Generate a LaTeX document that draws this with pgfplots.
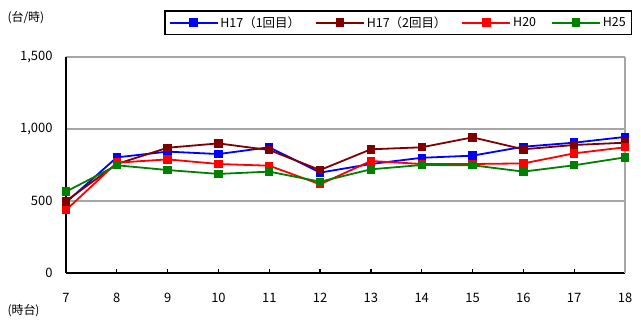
\documentclass[border=0pt]{standalone}
\usepackage{fontspec}
\setmainfont{Noto Sans CJK JP}
\usepackage{pgfplots}
\pgfplotsset{compat=1.18}
\definecolor{cBlue}{RGB}{0,0,255}
\definecolor{cBrown}{RGB}{128,0,0}
\definecolor{cRed}{RGB}{255,0,0}
\definecolor{cGreen}{RGB}{0,128,0}
\begin{document}
\begin{tikzpicture}
\useasboundingbox (0,0) rectangle (641bp,320bp);
\begin{axis}[
  at={(66bp,47bp)}, anchor=south west,
  scale only axis, width=559bp, height=216bp,
  xmin=7, xmax=18, ymin=0, ymax=1500,
  xtick={7,...,18}, ytick={0,500,1000,1500},
  clip=false,
  axis x line*=bottom, axis y line*=left,
  axis line style={black, line width=1.6bp, -},
  ymajorgrids, major grid style={gray!70, line width=1.4bp},
  xtick style={black, line width=1.2bp}, tick align=inside,
  major tick length=4bp,
  ytick style={draw=none},
  /pgf/number format/assume math mode=true,
  /pgf/number format/1000 sep={,},
  ticklabel style={font=\fontsize{13}{13}\selectfont},
  xticklabel style={yshift=-17bp},
  yticklabel style={xshift=-10bp},
  legend columns=4,
  legend style={at={(1.0125,1.102)}, anchor=south east, draw=black, line width=1.4bp,
    font=\fontsize{12.5}{12.5}\selectfont, inner sep=3.5bp,
    /tikz/every even column/.append style={column sep=13bp}},
  legend cell align=left,
  legend image code/.code={\draw[line width=1.8bp, mark repeat=2,mark phase=2] plot coordinates {(0bp,0bp)(24bp,0bp)(48bp,0bp)};},
  every axis plot/.append style={line width=1.8bp, mark=square*, mark size=3.3bp},
]
\addplot[cBlue, mark options={fill=cBlue}] coordinates {(7,490)(8,803)(9,843)(10,826)(11,873)(12,697)(13,757)(14,800)(15,815)(16,877)(17,905)(18,945)};
\addlegendentry{H17（1回目）}
\addplot[cBrown, mark options={fill=cBrown}] coordinates {(7,500)(8,757)(9,870)(10,900)(11,854)(12,715)(13,859)(14,873)(15,942)(16,859)(17,889)(18,905)};
\addlegendentry{H17（2回目）}
\addplot[cRed, mark options={fill=cRed}] coordinates {(7,437)(8,766)(9,789)(10,757)(11,745)(12,616)(13,778)(14,757)(15,757)(16,761)(17,831)(18,873)};
\addlegendentry{H20}
\addplot[cGreen, mark options={fill=cGreen}] coordinates {(7,565)(8,748)(9,715)(10,688)(11,704)(12,634)(13,720)(14,750)(15,748)(16,704)(17,748)(18,803)};
\addlegendentry{H25}
\draw[gray!70, line width=1.4bp] (rel axis cs:1,0) -- (rel axis cs:1,1);
\end{axis}
\node[anchor=west, font=\fontsize{12}{12}\selectfont] at (4bp,302bp) {(台/時)};
\node[anchor=west, font=\fontsize{12}{12}\selectfont] at (4bp,9bp) {(時台)};
\end{tikzpicture}
\end{document}
